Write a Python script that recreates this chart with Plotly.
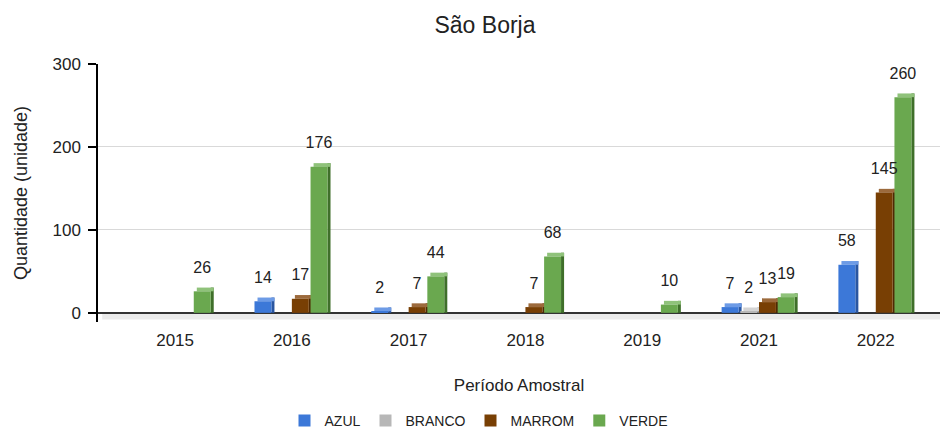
import plotly.graph_objects as go

categories = ["2015", "2016", "2017", "2018", "2019", "2021", "2022"]
azul = [None, 14, 2, None, None, 7, 58]
branco = [None, None, None, None, None, 2, None]
marrom = [None, 17, 7, 7, None, 13, 145]
verde = [26, 176, 44, 68, 10, 19, 260]

series_names = ["AZUL", "BRANCO", "MARROM", "VERDE"]
series_values = [azul, branco, marrom, verde]
front_colors = ["#3c78d8", "#b7b7b7", "#783f04", "#6aa84f"]
top_colors = ["#6d9be6", "#d4d4d4", "#9c6a3c", "#8fc27a"]
side_colors = ["#2a56a0", "#8e8e8e", "#4e2903", "#3f6f2a"]

FONT = "Liberation Sans, Arial, sans-serif"
TXT = "#222222"
slot = 0.16
w = 0.145
dx = 0.026
dy = 4.5
label_gap = 15
start = -0.32

fig = go.Figure()

# 3D faces (side and top)
for i, (name, vals) in enumerate(zip(series_names, series_values)):
    x0 = start + i * slot
    fig.add_trace(go.Bar(
        x=categories, y=[(v + dy) if v is not None else None for v in vals],
        base=0, offset=x0 + w, width=dx,
        marker=dict(color=side_colors[i], line=dict(width=0)),
        showlegend=False, hoverinfo="skip",
    ))
    fig.add_trace(go.Bar(
        x=categories, y=[dy if v is not None else None for v in vals],
        base=[v if v is not None else 0 for v in vals],
        offset=x0 + dx, width=w,
        marker=dict(color=top_colors[i], line=dict(width=0)),
        showlegend=False, hoverinfo="skip",
    ))

# front faces
for i, (name, vals) in enumerate(zip(series_names, series_values)):
    x0 = start + i * slot
    fig.add_trace(go.Bar(
        name=name, x=categories, y=vals, base=0,
        offset=x0, width=w,
        marker=dict(color=front_colors[i], line=dict(width=0)),
        hovertemplate=name + " %{x}: %{y}<extra></extra>",
    ))

# data labels (carried by transparent spacer bars above each column)
for i, (name, vals) in enumerate(zip(series_names, series_values)):
    x0 = start + i * slot
    fig.add_trace(go.Bar(
        x=categories, y=[label_gap if v is not None else None for v in vals],
        base=[v if v is not None else 0 for v in vals],
        offset=x0, width=w,
        marker=dict(color="rgba(0,0,0,0)", line=dict(width=0)),
        text=[str(v) if v is not None else "" for v in vals],
        textposition="outside", cliponaxis=False,
        textfont=dict(family=FONT, size=16, color=TXT),
        constraintext="none",
        showlegend=False, hoverinfo="skip",
    ))

fig.update_layout(
    barmode="overlay",
    width=942, height=430,
    margin=dict(l=98, r=2, t=64, b=108, autoexpand=False),
    paper_bgcolor="white", plot_bgcolor="white",
    font=dict(family=FONT, size=15, color=TXT),
    title=dict(text="São Borja", x=485 / 942, xanchor="center", xref="container",
               y=1 - 25 / 430, yanchor="middle", font=dict(family=FONT, size=23, color=TXT)),
    xaxis=dict(
        type="category", range=[-0.66, 6.55],
        showline=False, ticks="", showgrid=False,
        tickfont=dict(family=FONT, size=17, color=TXT),
        ticklabelstandoff=6,
        title=dict(text="Período Amostral", font=dict(family=FONT, size=17, color=TXT), standoff=30),
    ),
    yaxis=dict(
        range=[-11, 300], dtick=100, tick0=0,
        showline=True, linecolor="#000000", linewidth=1.5,
        ticks="outside", ticklen=8, tickcolor="#000000", tickwidth=1.5,
        showgrid=True, gridcolor="#d9d9d9", gridwidth=1,
        zeroline=True, zerolinecolor="#333333", zerolinewidth=1.5,
        tickfont=dict(family=FONT, size=17, color=TXT),
        ticklabelstandoff=4,
        title=dict(text="Quantidade (unidade)", font=dict(family=FONT, size=18, color=TXT), standoff=20),
    ),
    legend=dict(
        orientation="h", x=(479 - 98) / 842, xanchor="center",
        y=(322 - 421) / 258, yanchor="middle",
        font=dict(family=FONT, size=14, color=TXT),
        traceorder="normal",
    ),
    shapes=[dict(type="rect", xref="paper", yref="y", x0=0.005, x1=1, y0=-8, y1=0,
                 fillcolor="#ebebeb", line=dict(width=0), layer="below")],
)

fig.write_html("out.html", config={"displayModeBar": False},
               post_script="document.body.style.margin='0px';")
